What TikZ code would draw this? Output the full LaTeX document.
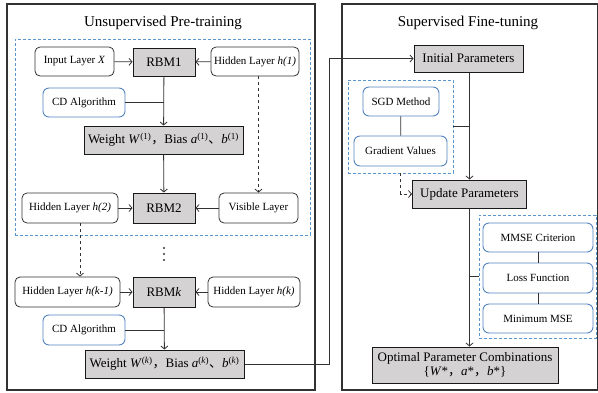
\documentclass[tikz,border=0pt]{standalone}
\usepackage{fontspec}
\setmainfont{Liberation Serif}
\newfontfamily\cjk{Noto Sans CJK SC}
\usetikzlibrary{arrows.meta}

\definecolor{boxgray}{RGB}{212,210,210}
\definecolor{blueline}{RGB}{84,132,192}
\definecolor{dashblue}{RGB}{90,150,205}
\definecolor{inkline}{RGB}{50,50,50}

\newcommand{\fw}[1]{{\cjk #1}}

\tikzset{
  plainbox/.style={draw=inkline, rounded corners=5pt, line width=0.8pt, fill=white,
    font=\fontsize{11}{13}\selectfont, inner sep=0pt},
  bluebox/.style={draw=blueline, rounded corners=6pt, line width=0.9pt, fill=white,
    font=\fontsize{11}{13}\selectfont, inner sep=0pt},
  graybox/.style={draw=black!90, fill=boxgray, line width=1pt,
    font=\fontsize{13}{15}\selectfont, inner sep=0pt, align=center},
  grp/.style={draw=dashblue, dash pattern=on 3pt off 2pt, line width=0.9pt, inner sep=0pt},
  panel/.style={draw=inkline, line width=1.1pt, inner sep=0pt},
  headline/.style={font=\fontsize{15}{17}\selectfont, inner sep=0pt},
  link/.style={draw=inkline, line width=0.8pt},
  arr/.style={link, -{Straight Barb[length=3pt,width=7pt]}},
  dot/.style={fill=inkline, circle, inner sep=0pt, minimum size=2.2pt},
}

\begin{document}
\begin{tikzpicture}[x=1pt,y=-1pt]
\useasboundingbox (0,0) rectangle (598,392);

% ---- panels ----
\node[panel, minimum width=308pt, minimum height=386pt] (leftpanel) at (161,197) {};
\node[panel, minimum width=255.5pt, minimum height=386pt] (rightpanel) at (469.75,197) {};
\node[headline] (ltitle) at (163,23) {Unsupervised Pre-training};
\node[headline] (rtitle) at (468,23) {Supervised Fine-tuning};

% ---- first two RBMs ----
\node[grp, minimum width=295pt, minimum height=196pt] (grpA) at (162.5,137) {};

\node[plainbox, minimum width=79pt, minimum height=29pt] (inX) at (74.5,61.5) {Input Layer \textit{X}};
\node[graybox, minimum width=62pt, minimum height=28pt] (rbm1) at (164,62) {RBM1};
\node[plainbox, minimum width=88pt, minimum height=29pt] (h1) at (255,61.5) {Hidden Layer \textit{h(1)}};
\node[bluebox, minimum width=82pt, minimum height=29pt] (cd1) at (84,102.5) {CD Algorithm};
\node[graybox, minimum width=159pt, minimum height=28pt] (w1) at (163.5,140)
  {Weight \textit{W}\textsuperscript{(1)}\fw{，}Bias \textit{a}\textsuperscript{(1)}\fw{、}\textit{b}\textsuperscript{(1)}};

\node[plainbox, minimum width=96pt, minimum height=30pt] (h2) at (70,208) {Hidden Layer \textit{h(2)}};
\node[graybox, minimum width=62pt, minimum height=30pt] (rbm2) at (164,208) {RBM2};
\node[plainbox, minimum width=79pt, minimum height=30pt] (vis) at (258.5,208) {Visible Layer};

% vertical ellipsis between the second and the k-th RBM
\node[dot] (dotA) at (164,248) {};
\node[dot] (dotB) at (164,254) {};
\node[dot] (dotC) at (164,260) {};

% ---- k-th RBM ----
\node[plainbox, minimum width=105pt, minimum height=30pt] (hk1) at (67.5,292) {Hidden Layer \textit{h(k-1)}};
\node[graybox, minimum width=62pt, minimum height=30pt] (rbmk) at (164,292) {RBM\textit{k}};
\node[plainbox, minimum width=92pt, minimum height=30pt] (hk) at (254,292) {Hidden Layer \textit{h(k)}};
\node[bluebox, minimum width=82pt, minimum height=30pt] (cd2) at (84,330) {CD Algorithm};
\node[graybox, minimum width=159pt, minimum height=28pt] (wk) at (164.5,364)
  {Weight \textit{W}\textsuperscript{(\textit{k})}\fw{，}Bias \textit{a}\textsuperscript{(\textit{k})}\fw{、}\textit{b}\textsuperscript{(\textit{k})}};

% ---- fine-tuning ----
\node[graybox, minimum width=109pt, minimum height=27pt] (init) at (468.5,58.5) {Initial Parameters};
\node[grp, minimum width=105pt, minimum height=93pt] (grpB) at (400.5,126.5) {};
\node[bluebox, minimum width=76pt, minimum height=29pt] (sgd) at (401,101.5) {SGD Method};
\node[bluebox, minimum width=93pt, minimum height=30pt] (grad) at (400.5,151) {Gradient Values};
\node[graybox, minimum width=114pt, minimum height=28pt] (upd) at (469.5,194) {Update Parameters};

\node[grp, minimum width=117pt, minimum height=123pt] (grpC) at (537.5,276.5) {};
\node[bluebox, minimum width=110pt, minimum height=29pt] (mmse) at (538,237.5) {MMSE Criterion};
\node[bluebox, minimum width=110pt, minimum height=30pt] (loss) at (538,278) {Loss Function};
\node[bluebox, minimum width=110pt, minimum height=29pt] (minm) at (538,318.5) {Minimum MSE};

\node[graybox, minimum width=186pt, minimum height=36pt] (opt) at (465,365)
  {Optimal Parameter Combinations\\[-1pt]\{\textit{W}*\fw{，}\textit{a}*\fw{，}\textit{b}*\}};

% ---- connectors: pre-training ----
\draw[arr] (inX) -- (rbm1);
\draw[arr] (h1) -- (rbm1);
\draw[arr] (rbm1) -- (w1);
\draw[link] (cd1.east) -- (cd1.east -| rbm1.south);
\draw[arr] (w1) -- (rbm2);
\draw[arr, dashed] (h1.south -| vis.north) -- (vis.north);
\draw[arr] (h2) -- (rbm2);
\draw[arr] (vis) -- (rbm2);
\coordinate (hdrop) at ([xshift=10pt]h2.south);
\draw[arr, dashed] (hdrop) -- (hdrop |- hk1.north);
\draw[arr] (hk1) -- (rbmk);
\draw[arr] (hk) -- (rbmk);
\draw[arr] (rbmk) -- (wk);
\draw[link] (cd2.east) -- (cd2.east -| rbmk.south);

% ---- connectors: hand-over and fine-tuning ----
\coordinate (bend) at (329,364);
\draw[arr] (wk.east) -- (bend) -- (bend |- init.west) -- (init.west);
\draw[arr] (init.south -| upd.north) -- (upd.north);
\draw[link] (grpB.east) -- (grpB.east -| upd.north);
\draw[link] (sgd) -- (grad);
\draw[arr, dashed] (grpB.south) -- (grpB.south |- upd.west) -- (upd.west);
\draw[arr] (upd.south) -- (upd.south |- opt.north);
\draw[link] (grpC.west) -- (grpC.west -| upd.south);
\draw[link] (mmse) -- (loss);
\draw[link] (loss) -- (minm);
\end{tikzpicture}
\end{document}
